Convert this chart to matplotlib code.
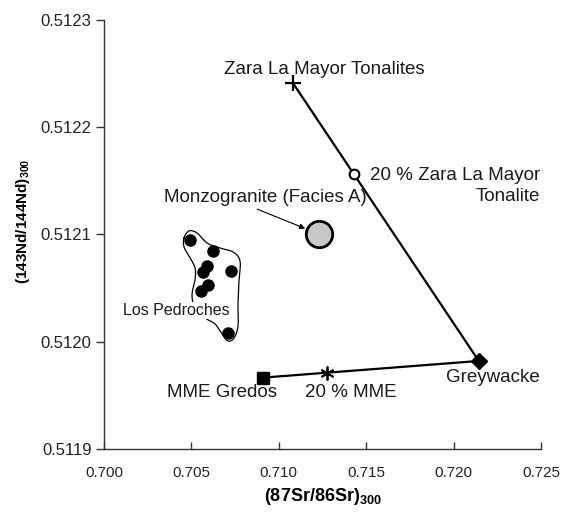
#!/usr/bin/env python3

import numpy as np
import matplotlib
matplotlib.use("Agg")
import matplotlib.pyplot as plt

plt.rcParams["font.family"] = ["Liberation Sans", "DejaVu Sans"]
plt.rcParams["mathtext.fontset"] = "custom"
plt.rcParams["mathtext.rm"] = "Liberation Sans"
plt.rcParams["mathtext.bf"] = "Liberation Sans:bold"

# End members and mixing points: (87Sr/86Sr)300, (143Nd/144Nd)300
zara_sr, zara_nd = 0.7108, 0.512241
zara20_sr, zara20_nd = 0.7143, 0.512156
greywacke_sr, greywacke_nd = 0.72144, 0.511982
mme_sr, mme_nd = 0.70910, 0.5119665
mme20_sr, mme20_nd = 0.71274, 0.511971
monzo_sr, monzo_nd = 0.71232, 0.512100

# Los Pedroches samples
pedroches_sr = [0.70492, 0.70624, 0.70566, 0.70589, 0.70727, 0.70595, 0.70555, 0.70709]
pedroches_nd = [0.512095, 0.512084, 0.512065, 0.512070, 0.512066, 0.512053, 0.512047, 0.512008]

# Hand-drawn envelope round the Los Pedroches field
field_sr = [0.704577, 0.704863, 0.705321, 0.705893, 0.706636, 0.707380, 0.707781,
            0.707723, 0.707666, 0.707666, 0.707437, 0.707094, 0.706751, 0.706350,
            0.705778, 0.705206, 0.705034, 0.705206, 0.705206, 0.704863, 0.704577]
field_nd = [0.5120966, 0.5121031, 0.5121012, 0.5120919, 0.5120872, 0.5120835, 0.5120751,
            0.5120574, 0.5120342, 0.5120146, 0.5120034, 0.5120006, 0.5120072, 0.5120165,
            0.5120221, 0.5120314, 0.5120435, 0.5120574, 0.5120686, 0.5120798, 0.5120882]

x_ticks = [0.700, 0.705, 0.710, 0.715, 0.720, 0.725]
y_ticks = [0.5119, 0.5120, 0.5121, 0.5122, 0.5123]


def smooth_closed(xs, ys, n=12):
    """Closed Catmull-Rom curve through the given vertices (for the envelope line)."""
    pts = np.column_stack([xs, ys])
    m = len(pts)
    out = []
    for i in range(m):
        p0, p1, p2, p3 = pts[i - 1], pts[i], pts[(i + 1) % m], pts[(i + 2) % m]
        for t in np.linspace(0, 1, n, endpoint=False):
            t2, t3 = t * t, t * t * t
            out.append(0.5 * (2 * p1 + (-p0 + p2) * t
                              + (2 * p0 - 5 * p1 + 4 * p2 - p3) * t2
                              + (-p0 + 3 * p1 - 3 * p2 + p3) * t3))
    out.append(out[0])
    out = np.array(out)
    return out[:, 0], out[:, 1]


def plot_sr_nd(ax):
    lbl = dict(fontsize=13.5, ha="center", va="center", textcoords="offset points",
               color="#1a1a1a")

    # mixing lines
    ax.plot([zara_sr, greywacke_sr], [zara_nd, greywacke_nd], color="black", lw=1.6, zorder=2)
    ax.plot([mme_sr, greywacke_sr], [mme_nd, greywacke_nd], color="black", lw=1.6, zorder=2)

    # end members
    ax.plot(zara_sr, zara_nd, marker="+", ms=11, mew=1.6, color="black", zorder=3)
    ax.plot(greywacke_sr, greywacke_nd, marker="D", ms=8, color="black", zorder=3)
    ax.plot(mme_sr, mme_nd, marker="s", ms=9, color="black", zorder=3)
    ax.plot(zara20_sr, zara20_nd, marker="o", ms=7, mfc="white", mec="black", mew=1.5, zorder=3)
    ax.plot(mme20_sr, mme20_nd, marker=(6, 2, 0), ms=10, mew=1.3, color="black", zorder=3)
    ax.plot(monzo_sr, monzo_nd, marker="o", ms=19, mfc="#c8c8c8", mec="black", mew=2, zorder=3)

    # Los Pedroches field
    fx, fy = smooth_closed(field_sr, field_nd)
    ax.plot(fx, fy, color="black", lw=0.9, zorder=2)
    ax.plot(pedroches_sr, pedroches_nd, "o", ms=8, color="black", zorder=3)
    ax.text(0.70412, 0.512029, "Los Pedroches", fontsize=11.5, ha="center", va="center",
            color="#1a1a1a", zorder=4, bbox=dict(facecolor="white", edgecolor="none", pad=0.5))

    # labels
    ax.annotate("Zara La Mayor Tonalites", (zara_sr, zara_nd), xytext=(23, 9.5), **lbl)
    ax.annotate("20 % Zara La Mayor\nTonalite", (zara20_sr, zara20_nd), xytext=(134, -8.5),
                fontsize=13.5, ha="right", va="center", multialignment="right",
                linespacing=1.25, textcoords="offset points", color="#1a1a1a")
    ax.annotate("MME Gredos", (mme_sr, mme_nd), xytext=(-29.5, -11), **lbl)
    ax.annotate("20 % MME", (mme20_sr, mme20_nd), xytext=(17.5, -14), **lbl)
    ax.annotate("Greywacke", (greywacke_sr, greywacke_nd), xytext=(10, -12), **lbl)
    ax.annotate("Monzogranite (Facies A)", (monzo_sr, monzo_nd), xytext=(-39, 26.6), **lbl,
                arrowprops=dict(arrowstyle="-|>", color="black", lw=0.8, mutation_scale=8,
                                relpos=(0.42, 0.0), shrinkA=1, shrinkB=11))

    ax.set_xlim(0.700, 0.725)
    ax.set_ylim(0.5119, 0.5123)
    ax.set_xticks(x_ticks)
    ax.set_xticklabels([f"{v:.3f}" for v in x_ticks])
    ax.set_yticks(y_ticks)
    ax.set_yticklabels([f"{v:.4f}" for v in y_ticks])

    for side in ("top", "right"):
        ax.spines[side].set_visible(False)
    for side in ("left", "bottom"):
        ax.spines[side].set_color("#333333")
        ax.spines[side].set_linewidth(1.0)
    ax.tick_params(axis="x", direction="in", length=5, width=1, color="#333333",
                   labelsize=11, pad=12, labelcolor="#222222")
    ax.tick_params(axis="y", direction="out", length=6, width=1, color="#333333",
                   labelsize=12, pad=3, labelcolor="#222222")

    ax.set_xlabel(r"(87Sr/86Sr)$_{\mathbf{300}}$", fontsize=13, fontweight="bold")
    ax.set_ylabel(r"(143Nd/144Nd)$_{\mathbf{300}}$", fontsize=11, fontweight="bold")
    ax.xaxis.set_label_coords(0.5, -0.085)
    ax.yaxis.set_label_coords(-0.165, 0.53)


if __name__ == "__main__":
    fig = plt.figure(figsize=(5.75, 5.16), dpi=100)
    ax = fig.add_axes([0.1809, 0.1298, 0.76, 0.8324])
    plot_sr_nd(ax)
    fig.savefig("out.png", dpi=100)
